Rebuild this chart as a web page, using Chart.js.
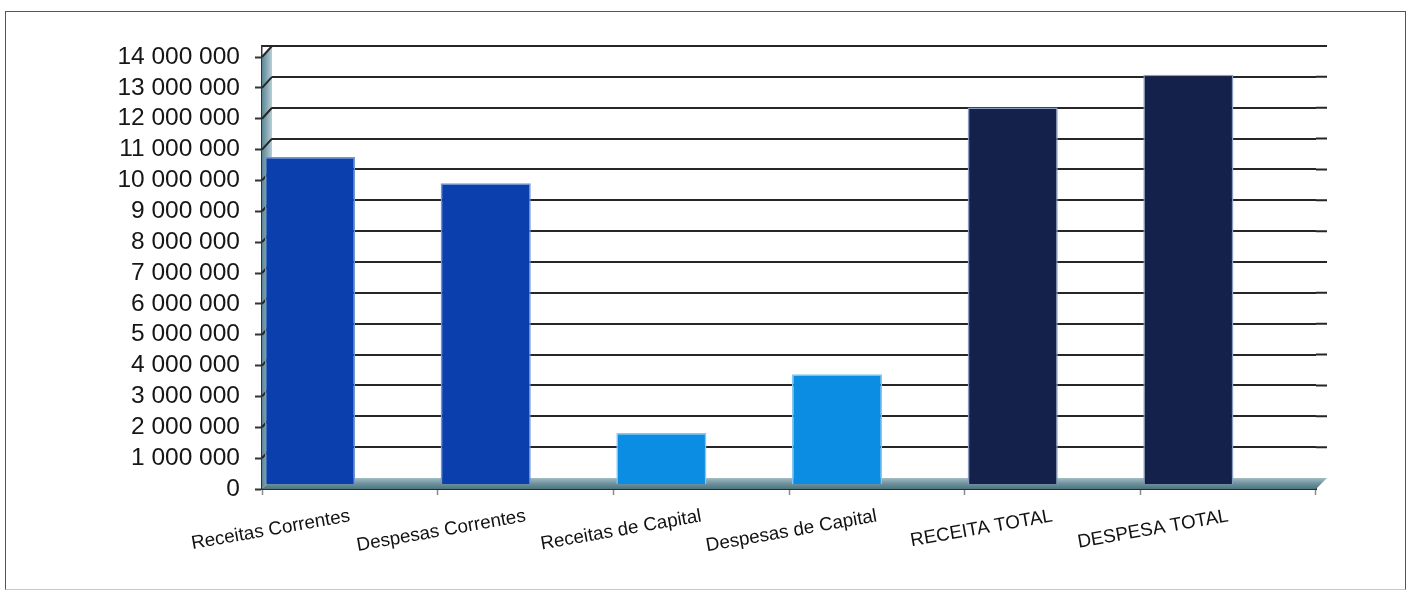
<!DOCTYPE html>
<html><head><meta charset="utf-8">
<script src="https://cdn.jsdelivr.net/npm/chart.js@4.4.1/dist/chart.umd.min.js"></script>
<style>
html,body{margin:0;padding:0;background:#fff;}
#wrap{position:relative;width:1413px;height:591px;overflow:hidden;}
#frame{position:absolute;left:5px;top:11px;width:1401px;height:579px;border:1.5px solid #555;border-bottom-color:#c8c8c8;pointer-events:none;box-sizing:border-box;}
canvas{position:absolute;left:0;top:0;}
</style></head><body>
<div id="wrap"><canvas id="c" width="1413" height="591"></canvas><div id="frame"></div></div>
<script>
// ---- data ----
const categories = ['Receitas Correntes', 'Despesas Correntes', 'Receitas de Capital', 'Despesas de Capital', 'RECEITA TOTAL', 'DESPESA TOTAL'];
const values = [10600000, 9750000, 1650000, 3560000, 12200000, 13260000];
const yTickValues = [0, 1000000, 2000000, 3000000, 4000000, 5000000, 6000000, 7000000, 8000000, 9000000, 10000000, 11000000, 12000000, 13000000, 14000000];
const yTickLabels = ['0', '1 000 000', '2 000 000', '3 000 000', '4 000 000', '5 000 000', '6 000 000', '7 000 000', '8 000 000', '9 000 000', '10 000 000', '11 000 000', '12 000 000', '13 000 000', '14 000 000'];

// ---- styles ----
const barColors   = ['#0b3fae', '#0b3fae', '#0a8de2', '#0a8de2', '#14214b', '#14214b'];
const barBorders  = ['#6f95d6', '#6f95d6', '#86c8f2', '#86c8f2', '#8a9cc0', '#8a9cc0'];

const yTop = 14000000;
const wallDepth = 356500;   // 3D depth of the back wall, in value units
const barDepth = 162000;    // bars sit partly inside the floor depth
const FONT = 'Liberation Sans, Arial, sans-serif';

const decor = {
  id: 'decor',
  beforeDatasetsDraw(chart) {
    const {ctx, chartArea: a, scales} = chart;
    const yL = scales.yLabels, yG = scales.yGrid;
    const dx = 10;
    const f0 = yL.getPixelForValue(0), b0 = yG.getPixelForValue(0);
    const fT = yL.getPixelForValue(yTop), bT = yG.getPixelForValue(yTop);
    ctx.save();
    // side wall
    let g = ctx.createLinearGradient(a.left, 0, a.left + dx, 0);
    g.addColorStop(0, '#5a8595'); g.addColorStop(1, '#b8ced7');
    ctx.fillStyle = g;
    ctx.beginPath();
    ctx.moveTo(a.left, fT); ctx.lineTo(a.left + dx, bT); ctx.lineTo(a.left + dx, b0); ctx.lineTo(a.left, f0);
    ctx.closePath(); ctx.fill();
    // connectors and right extension of grid lines
    ctx.strokeStyle = '#262626'; ctx.lineWidth = 2;
    yTickValues.forEach(v => {
      if (v === 0) return;
      ctx.beginPath();
      ctx.moveTo(a.left, yL.getPixelForValue(v)); ctx.lineTo(a.left + dx, yG.getPixelForValue(v));
      ctx.moveTo(a.right, yG.getPixelForValue(v)); ctx.lineTo(a.right + 11, yG.getPixelForValue(v));
      ctx.stroke();
    });
    // floor
    g = ctx.createLinearGradient(0, b0, 0, f0);
    g.addColorStop(0, '#a3bcc4'); g.addColorStop(0.5, '#6e939e'); g.addColorStop(1, '#4d7480');
    ctx.fillStyle = g;
    ctx.beginPath();
    ctx.moveTo(a.left, f0); ctx.lineTo(a.left + dx, b0); ctx.lineTo(a.right + 11, b0); ctx.lineTo(a.right, f0);
    ctx.closePath(); ctx.fill();
    ctx.restore();
  }
};

new Chart(document.getElementById('c'), {
  type: 'bar',
  data: {
    labels: categories,
    datasets: [
      { data: values, backgroundColor: barColors, borderColor: barBorders, borderWidth: 1.5, borderSkipped: 'bottom',
        xAxisID: 'x', yAxisID: 'y', categoryPercentage: 0.906, barPercentage: 1.132 },
      { data: values.map(() => null), xAxisID: 'x', yAxisID: 'y', categoryPercentage: 0.906, barPercentage: 1.132 }
    ]
  },
  options: {
    responsive: false, animation: false, devicePixelRatio: 1,
    layout: { padding: { left: 0, top: 46, right: 97, bottom: 0 } },
    plugins: { legend: { display: false }, tooltip: { enabled: false } },
    scales: {
      x: {
        type: 'category', offset: true,
        grid: { offset: true, drawOnChartArea: false, drawTicks: true, tickLength: 6, tickColor: '#8a8a8a', tickWidth: 1.5 },
        border: { display: true, color: '#2b2b2b', width: 2 },
        ticks: { autoSkip: false, minRotation: 10, maxRotation: 10, padding: 10, color: '#111', font: { family: FONT, size: 18.8 } },
        afterFit(s) { s.height = 102; }
      },
      yLabels: {
        type: 'linear', position: 'left', min: 0, max: yTop + wallDepth,
        afterBuildTicks(s) { s.ticks = yTickValues.map(v => ({ value: v })); },
        ticks: { autoSkip: false, callback: (v, i) => yTickLabels[i], padding: 15, color: '#161616', font: { family: FONT, size: 24.5 } },
        grid: { drawOnChartArea: false, drawTicks: true, tickLength: 7, tickColor: '#333', tickWidth: 2 },
        border: { display: true, color: '#333', width: 1.5 },
        afterFit(s) { s.width = 262; }
      },
      yGrid: {
        type: 'linear', position: 'left', min: -wallDepth, max: yTop,
        afterBuildTicks(s) { s.ticks = yTickValues.filter(v => v > 0).map(v => ({ value: v })); },
        ticks: { display: false, autoSkip: false },
        grid: { color: '#262626', lineWidth: 2, drawTicks: false },
        border: { display: false },
        afterFit(s) { s.width = 0; }
      },
      y: {
        type: 'linear', display: false, min: -barDepth, max: yTop + wallDepth - barDepth
      }
    }
  },
  plugins: [decor]
});
</script>
</body></html>
